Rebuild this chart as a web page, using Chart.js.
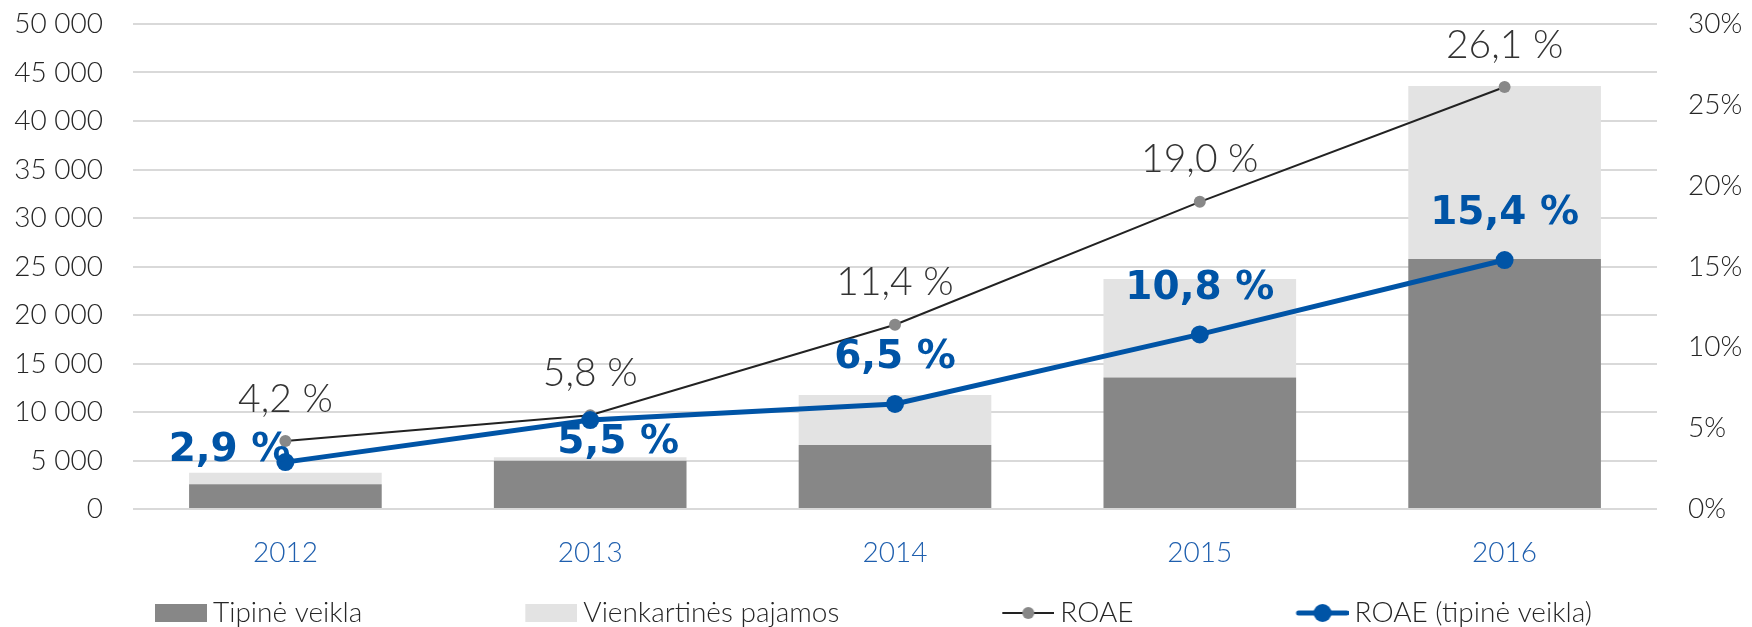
<!DOCTYPE html>
<html>
<head>
<meta charset="utf-8">
<script src="https://cdn.jsdelivr.net/npm/chart.js@4/dist/chart.umd.min.js"></script>
<style>
  html, body { margin: 0; padding: 0; background: #fff; }
  #wrap { width: 1752px; height: 627px; }
</style>
</head>
<body>
<div id="wrap"><canvas id="roaeChart" width="1752" height="627"></canvas></div>
<script>
const years = ['2012', '2013', '2014', '2015', '2016'];
const tipineVeikla = [2550, 4980, 6600, 13550, 25770];
const vienkartinesPajamos = [1200, 350, 5150, 10150, 17850];
const roae = [4.2, 5.8, 11.4, 19.0, 26.1];
const roaeTipine = [2.9, 5.5, 6.5, 10.8, 15.4];

const DARK_BAR = '#878787';
const LIGHT_BAR = '#e3e3e3';
const BLUE = '#0054a6';
const TEXT = '#262626';
const LIGHT_FONT = 'Lato, "Open Sans", sans-serif';

// where the bold blue labels sit relative to their point: [dx, dy, align]
const blueLabelPlace = [[5, -11, 'right'], [28, 23, 'center'], [0, -46, 'center'], [0, -46, 'center'], [0, -46, 'center']];

function pct(v) {
    return v.toFixed(1).replace('.', ',') + ' %';
}

// legend swatches: wide transparent canvas with the marker at its right end
const BOX_W = 192;
function swatch(draw) {
    const c = document.createElement('canvas');
    c.width = BOX_W + 16;
    c.height = 28;
    const g = c.getContext('2d');
    draw(g, c.width - 52, 14);
    return c;
}
const legendIcons = [
    swatch((g, x, y) => { g.fillStyle = DARK_BAR; g.fillRect(x, y - 9, 52, 18); }),
    swatch((g, x, y) => { g.fillStyle = LIGHT_BAR; g.fillRect(x, y - 9, 52, 18); }),
    swatch((g, x, y) => {
        g.strokeStyle = '#222'; g.lineWidth = 2;
        g.beginPath(); g.moveTo(x, y); g.lineTo(x + 52, y); g.stroke();
        g.fillStyle = '#888'; g.beginPath(); g.arc(x + 26, y, 6, 0, Math.PI * 2); g.fill();
    }),
    swatch((g, x, y) => {
        g.strokeStyle = BLUE; g.lineWidth = 5; g.lineCap = 'round';
        g.beginPath(); g.moveTo(x + 2, y); g.lineTo(x + 50, y); g.stroke();
        g.fillStyle = BLUE; g.beginPath(); g.arc(x + 26, y, 9, 0, Math.PI * 2); g.fill();
    })
];

const pointLabels = {
    id: 'pointLabels',
    afterDatasetsDraw(chart) {
        const ctx = chart.ctx;
        ctx.save();
        ctx.textBaseline = 'middle';
        ctx.textAlign = 'center';
        ctx.font = '300 39px ' + LIGHT_FONT;
        ctx.fillStyle = '#333';
        chart.getDatasetMeta(2).data.forEach((pt, i) => {
            ctx.fillText(pct(roae[i]), pt.x, pt.y - 42);
        });
        ctx.font = 'bold 39px "DejaVu Sans", sans-serif';
        ctx.fillStyle = BLUE;
        chart.getDatasetMeta(3).data.forEach((pt, i) => {
            const p = blueLabelPlace[i];
            ctx.textAlign = p[2];
            ctx.fillText(pct(roaeTipine[i]), pt.x + p[0], pt.y + p[1]);
        });
        ctx.restore();
    }
};

// vertical axes: keep only half a label above/below, not the tick padding
function trimPadding(scale) {
    scale.paddingTop = 0;
    scale.paddingBottom = 0;
}

const ctx = document.getElementById('roaeChart').getContext('2d');
new Chart(ctx, {
    type: 'bar',
    data: {
        labels: years,
        datasets: [
            {
                label: 'Tipinė veikla',
                data: tipineVeikla,
                backgroundColor: DARK_BAR,
                categoryPercentage: 1,
                barPercentage: 0.632,
                order: 3
            },
            {
                label: 'Vienkartinės pajamos',
                data: vienkartinesPajamos,
                backgroundColor: LIGHT_BAR,
                categoryPercentage: 1,
                barPercentage: 0.632,
                order: 4
            },
            {
                type: 'line',
                label: 'ROAE',
                data: roae,
                yAxisID: 'y1',
                borderColor: '#222',
                borderWidth: 2,
                pointRadius: 6,
                pointBorderWidth: 0,
                pointBackgroundColor: '#888',
                order: 2
            },
            {
                type: 'line',
                label: 'ROAE (tipinė veikla)',
                data: roaeTipine,
                yAxisID: 'y1',
                borderColor: BLUE,
                borderWidth: 5,
                pointRadius: 9,
                pointBorderWidth: 0,
                pointBackgroundColor: BLUE,
                order: 1
            }
        ]
    },
    options: {
        responsive: false,
        animation: false,
        layout: { padding: { left: -8, right: 0, top: 24, bottom: -10 } },
        scales: {
            x: {
                stacked: true,
                grid: { display: false },
                border: { display: false },
                ticks: { color: '#1f5fae', font: { family: LIGHT_FONT, size: 28, weight: 300 }, padding: 19 },
                afterFit(scale) { scale.height = 627 + 10 - 509 - scale.chart.legend.height; }
            },
            y: {
                stacked: true,
                min: 0,
                max: 50000,
                grid: { color: '#d9d9d9', lineWidth: 2, drawTicks: false },
                border: { display: false },
                ticks: {
                    stepSize: 5000,
                    padding: 30,
                    color: TEXT,
                    font: { family: LIGHT_FONT, size: 28, weight: 300 },
                    callback: v => String(v).replace(/\B(?=(\d{3})+(?!\d))/g, ' ')
                },
                afterFit(scale) { scale.width = 141; trimPadding(scale); }
            },
            y1: {
                position: 'right',
                min: 0,
                max: 30,
                grid: { display: false, drawTicks: false },
                border: { display: false },
                ticks: {
                    stepSize: 5,
                    padding: 31,
                    color: TEXT,
                    font: { family: LIGHT_FONT, size: 28, weight: 300 },
                    callback: v => v + '%'
                },
                afterFit(scale) { scale.width = 95; trimPadding(scale); }
            }
        },
        plugins: {
            tooltip: { enabled: false },
            legend: {
                position: 'bottom',
                align: 'start',
                labels: {
                    usePointStyle: true,
                    pointStyleWidth: BOX_W,
                    padding: 15,
                    color: TEXT,
                    font: { family: LIGHT_FONT, size: 28, weight: 300 },
                    sort: (a, b) => a.datasetIndex - b.datasetIndex,
                    generateLabels(chart) {
                        const items = Chart.defaults.plugins.legend.labels.generateLabels(chart);
                        items.forEach(it => { it.pointStyle = legendIcons[it.datasetIndex]; });
                        return items;
                    }
                }
            }
        }
    },
    plugins: [pointLabels]
});
</script>
</body>
</html>
